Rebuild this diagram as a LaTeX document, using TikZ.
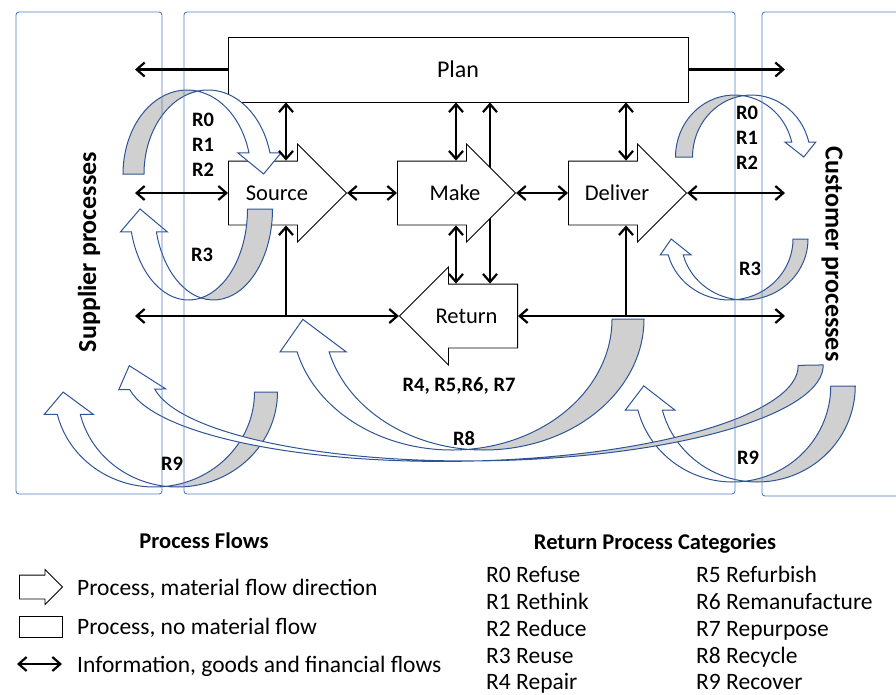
\documentclass[tikz,border=0pt]{standalone}
\usepackage{fontspec}
\setmainfont{Carlito}
\usetikzlibrary{arrows.meta,shapes.arrows,backgrounds}
\definecolor{boxblue}{RGB}{80,124,196}
\definecolor{arrowblue}{RGB}{47,84,150}
\definecolor{tailgray}{RGB}{208,208,208}

% curved block arrow: #1 placement, #2 x radius, #3 y radius,
% #4 band offset, #5 head angle, #6 wing, #7 head length
\newcommand{\curvarrow}[7]{%
  \begin{scope}[#1]
    \pgfmathsetmacro\cvAl{acos(#4/(2*#2))}
    \pgfmathsetmacro\cvTl{360-\cvAl}
    \pgfmathsetmacro\cvTr{180+\cvAl}
    \pgfmathsetmacro\cvYi{#3*sin(\cvTr)}
    \pgfmathsetmacro\cvXo{#4/2+#2*cos(#5)}
    \pgfmathsetmacro\cvXi{-#4/2+#2*cos(#5)}
    \pgfmathsetmacro\cvYh{#3*sin(#5)}
    \pgfmathsetmacro\cvN{100*sqrt((#2*sin(#5)/100)^2+(#3*cos(#5)/100)^2)}
    \pgfmathsetmacro\cvXt{(\cvXo+\cvXi)/2-#7*#2*sin(#5)/\cvN}
    \pgfmathsetmacro\cvYt{\cvYh+#7*#3*cos(#5)/\cvN}
    \filldraw[rtail] ({-#4/2-#2},0)
      arc[start angle=180, end angle=\cvTl, x radius=#2, y radius=#3]
      arc[start angle=\cvTr, end angle=180, x radius=#2, y radius=#3] -- cycle;
    \filldraw[rfront] (0,\cvYi)
      arc[start angle=\cvTr, end angle=#5, x radius=#2, y radius=#3]
      -- ({\cvXo+#6},\cvYh) -- (\cvXt,\cvYt) -- ({\cvXi-#6},\cvYh) -- (\cvXi,\cvYh)
      arc[start angle=#5, end angle=\cvTl, x radius=#2, y radius=#3] -- cycle;
  \end{scope}}

\begin{document}
\begin{tikzpicture}[x=1pt,y=-1pt]
	\tikzset{
	  frame/.style = {draw=boxblue, line width=0.9pt, rounded corners=3pt},
	  process/.style = {single arrow, draw, fill=white, line width=0.9pt,
	                    minimum height=118pt, single arrow head extend=17pt,
	                    single arrow tip angle=90, text height=15pt, text depth=4pt,
	                    inner xsep=0pt, inner ysep=22pt, anchor=tail},
	  proclabel/.style = {font=\fontsize{22.5}{27}\selectfont},
	  flow/.style = {line width=2.2pt, >={Straight Barb[length=8pt,width=14pt]}},
	  rtail/.style = {draw=arrowblue, fill=tailgray, line width=1pt},
	  rfront/.style = {draw=arrowblue, fill=white, line width=1pt},
	  rlabel/.style = {font=\bfseries\fontsize{20.5}{25}\selectfont,
	                   align=center, inner sep=0pt},
	  legend/.style = {font=\fontsize{23.5}{27}\selectfont, anchor=base west, inner sep=0pt},
	  legtitle/.style = {font=\bfseries\fontsize{22.5}{27}\selectfont, anchor=base, inner sep=0pt},
	  sidetitle/.style = {font=\bfseries\fontsize{26}{31}\selectfont, inner sep=0pt} }
	\useasboundingbox (0,0) rectangle (896,694);
%	\draw[help lines] (0,0) grid[step=50] (896,694);

	% processes
	\node[draw, fill=white, line width=0.9pt, minimum width=460pt, minimum height=65pt,
	      font=\fontsize{24}{29}\selectfont] (plan) at (458,69.5) {Plan};
	\node[process, label={[proclabel, xshift=5.5pt]center:Source}] (src) at (228,193) {};
	\node[process, label={[proclabel, xshift=14.5pt]center:Make}] (make) at (397,193) {};
	\node[process, label={[proclabel, xshift=5.5pt]center:Deliver}] (dlv) at (568,193) {};
	\node[process, shape border rotate=180,
	      label={[proclabel, xshift=-8pt]center:Return}] (ret) at (518,316) {};

	% return loops
	\curvarrow{shift={(468,319)},rotate=180}{160}{131}{32}{345.5}{17}{34}
	\curvarrow{shift={(166,392)},rotate=180}{100}{95}{23}{346.4}{13}{23}
	\curvarrow{shift={(745,386)},rotate=180}{98}{96}{24.5}{345.5}{12.5}{25}
	\curvarrow{shift={(474.7,371)},rotate=181}{336}{90}{25}{352}{11}{27}
	\curvarrow{shift={(197.5,174)}}{64}{84}{21}{345.5}{11}{21.4}
	\curvarrow{shift={(201,209)},rotate=180}{59}{91}{25}{345.4}{11}{23.3}
	\curvarrow{shift={(743,157)}}{59}{62}{17}{346}{7}{15.4}
	\curvarrow{shift={(737,239)},rotate=180}{63.5}{61}{15}{344.8}{8}{16.6}

	% partner frames
	\draw[frame] (16,12) rectangle (162,494);
	\draw[frame] (184,12) rectangle (735,494);
	\draw[frame] (896,12) -| (762,496) -- (896,496);

	% flows
	\coordinate (supA) at (135,69.5);
	\coordinate (cusA) at (785,69.5);
	\coordinate (supB) at (135,193);
	\coordinate (cusB) at (785,193);
	\coordinate (supC) at (135,316);
	\coordinate (cusC) at (785,316);
	\coordinate (xSrc) at (286,0);
	\coordinate (xMk) at (456,0);
	\coordinate (xRt) at (490,0);
	\coordinate (xDl) at (626,0);
	\draw[flow,->] (plan.west) -- (supA);
	\draw[flow,->] (plan.east) -- (cusA);
	\draw[flow,<->] (supB) -- (src.tail);
	\draw[flow,<->] (src.tip) -- (make.tail);
	\draw[flow,<->] (make.tip) -- (dlv.tail);
	\draw[flow,<->] (dlv.tip) -- (cusB);
	\draw[flow,<->] (plan.south -| xSrc) -- (xSrc |- src.90);
	\draw[flow,<->] (plan.south -| xMk) -- (xMk |- make.90);
	\draw[flow,<->] (plan.south -| xDl) -- (xDl |- dlv.90);
	\draw[flow,<->] (xMk |- make.270) -- (xMk |- ret.90);
	\begin{pgfonlayer}{background}
	\draw[flow,<->] (plan.south -| xRt) -- (xRt |- ret.90);
	\end{pgfonlayer}
	\draw[flow,->] (xSrc |- supC) -- (xSrc |- src.270);
	\draw[flow,->] (xDl |- supC) -- (xDl |- dlv.270);
	\draw[flow,<->] (supC) -- (ret.tip);
	\draw[flow,<->] (ret.tail) -- (cusC);

	% labels
	\node[sidetitle, rotate=90] (sup) at (89,252) {Supplier processes};
	\node[sidetitle, rotate=-90] (cus) at (832,254) {Customer processes};
	\node[rlabel] (rL02) at (203,145) {R0\\R1\\R2};
	\node[rlabel] (rR02) at (747,137.5) {R0\\R1\\R2};
	\node[rlabel] (rL3) at (202,255) {R3};
	\node[rlabel] (rR3) at (750,269) {R3};
	\node[rlabel] (rRet) at (459,386) {R4, R5,R6, R7};
	\node[rlabel] (rR8) at (464,438) {R8};
	\node[rlabel] (rL9) at (172,464) {R9};
	\node[rlabel] (rR9) at (748,458) {R9};

	% legend
	\node[legtitle] (lgFlows) at (204,548) {Process Flows};
	\node[single arrow, draw, line width=0.9pt, anchor=tail, inner xsep=0pt,
	      inner ysep=11.5pt, text height=0pt, text depth=0pt, minimum height=43pt,
	      single arrow head extend=5.5pt, single arrow tip angle=90] (lgArrow) at (19,587) {};
	\node[legend] (lgT1) at (77,595.5) {Process, material flow direction};
	\node[draw, line width=0.9pt, minimum width=43pt, minimum height=21pt,
	      inner sep=0pt] (lgBox) at (40.5,626.5) {};
	\node[legend] (lgT2) at (77,634.5) {Process, no material flow};
	\coordinate (lgL) at (17,664);
	\coordinate (lgR) at (62,664);
	\draw[flow,<->] (lgL) -- (lgR);
	\node[legend] (lgT3) at (77,672.5) {Information, goods and financial flows};

	\node[legtitle] (lgCat) at (655,549) {Return Process Categories};
	\node[legend] (c0) at (486,582) {R0 Refuse};
	\node[legend] (c1) at (486,609) {R1 Rethink};
	\node[legend] (c2) at (486,636) {R2 Reduce};
	\node[legend] (c3) at (486,663) {R3 Reuse};
	\node[legend] (c4) at (486,689) {R4 Repair};
	\node[legend] (c5) at (696,582) {R5 Refurbish};
	\node[legend] (c6) at (696,609) {R6 Remanufacture};
	\node[legend] (c7) at (696,636) {R7 Repurpose};
	\node[legend] (c8) at (696,663) {R8 Recycle};
	\node[legend] (c9) at (696,689) {R9 Recover};
\end{tikzpicture}
\end{document}
